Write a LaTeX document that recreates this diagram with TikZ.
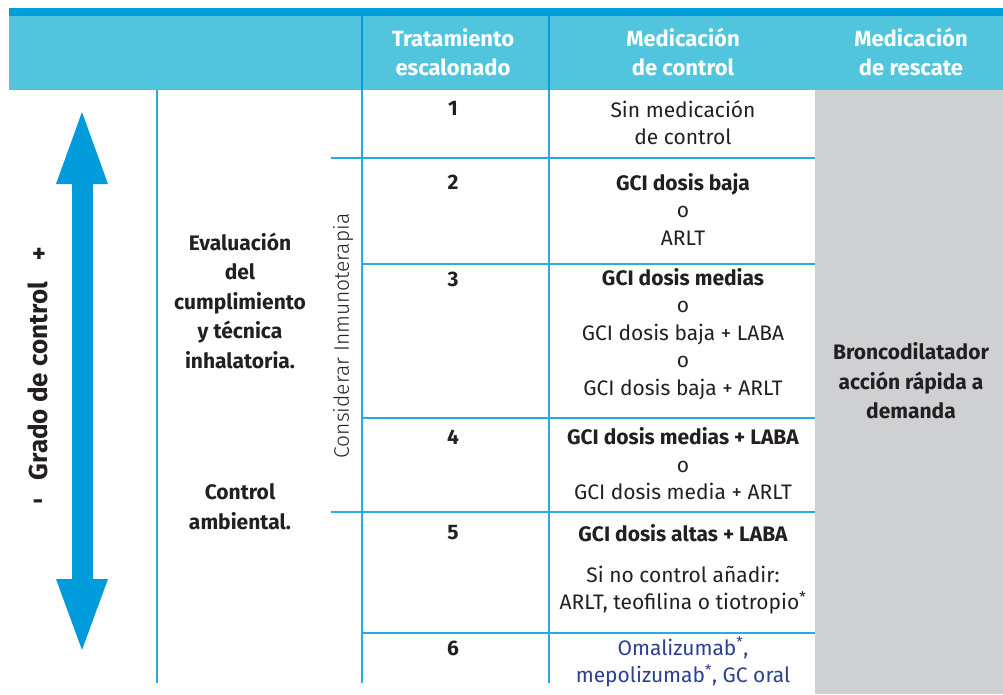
\documentclass[tikz,border=0pt]{standalone}
\usepackage{fontspec}
\setmainfont{Fira Sans}
\newfontfamily\firalight{Fira Sans Light}
\definecolor{hdr}{HTML}{52C5DE}
\definecolor{band}{HTML}{009CDB}
\definecolor{ln}{HTML}{29ABE2}
\definecolor{arr}{HTML}{009BDB}
\definecolor{gry}{HTML}{CFD0D2}
\definecolor{txt}{HTML}{231F20}
\definecolor{blu}{HTML}{2B3F93}
\begin{document}
\begin{tikzpicture}[x=1pt,y=-1pt,
  body/.style={font=\fontsize{21}{27.5}\selectfont, text=txt, align=center, inner sep=0pt},
  bbody/.style={body, font=\fontsize{21}{29.5}\selectfont\bfseries},
  big/.style={body, font=\fontsize{26}{30}\selectfont\bfseries},
  head/.style={font=\fontsize{22}{29}\selectfont\bfseries, text=white, align=center, inner sep=0pt},
  grid/.style={draw=ln, line width=1.4pt},
  hgrid/.style={draw=band, line width=1.4pt}]
\useasboundingbox (0,0) rectangle (1003,694);
% header
\fill[hdr] (9,16) rectangle (1003,90);
\fill[band] (9,8) rectangle (1003,16);
\fill[gry] (815,90) rectangle (1003,694);
% grid lines
\draw[hgrid] (362,16) -- (362,90);
\draw[hgrid] (549,16) -- (549,90);
\draw[grid] (157,90) -- (157,683);
\draw[grid] (362,90) -- (362,683);
\draw[grid] (549,90) -- (549,683);
\draw[grid] (331,158) -- (815,158);
\draw[grid] (362,264) -- (815,264);
\draw[grid] (362,418) -- (815,418);
\draw[grid] (331,512) -- (815,512);
\draw[grid] (362,633) -- (815,633);
% arrow
\fill[arr] (82,112) -- (108,184) -- (93,184) -- (93,579) -- (108,579) -- (82,650)
  -- (56,579) -- (72,579) -- (72,184) -- (56,184) -- cycle;
% header texts
\node[head] (h1) at (453,52) {Tratamiento\\escalonado};
\node[head] (h2) at (683,52) {Medicación\\de control};
\node[head] (h3) at (911,52) {Medicación\\de rescate};
% left texts
\node[big, rotate=90] (grado) at (38,381) {Grado de control};
\node[big] (plus) at (39,255) {+};
\node[big] (minus) at (38,505) {-};
\node[bbody] (eval) at (240,300.5) {Evaluación\\del\\cumplimiento\\y técnica\\inhalatoria.};
\node[bbody] (amb) at (240,506.5) {Control\\ambiental.};
\node[body, font=\fontsize{21}{27.5}\selectfont\firalight, rotate=90] (inmu) at (343,336) {Considerar Inmunoterapia};
% numbers
\node[bbody] (n1) at (453,108) {1};
\node[bbody] (n2) at (453,182) {2};
\node[bbody] (n3) at (453,279) {3};
\node[bbody] (n4) at (453,437) {4};
\node[bbody] (n5) at (453,533) {5};
\node[bbody] (n6) at (453,648) {6};
% medication
\node[body] (m1) at (683,122.5) {Sin medicación\\de control};
\node[body] (m2) at (683,209) {\textbf{GCI dosis baja}\\o\\ARLT};
\node[body] (m3) at (683,334) {\textbf{GCI dosis medias}\\o\\GCI dosis baja + LABA\\o\\GCI dosis baja + ARLT};
\node[body] (m4) at (683,464) {\textbf{GCI dosis medias + LABA}\\o\\GCI dosis media + ARLT};
\node[bbody] (m5) at (683,533) {GCI dosis altas + LABA};
\node[body] (m5b) at (683,590) {Si no control añadir:\\ARLT, teofilina o tiotropio\textsuperscript{*}};
\node[body, text=blu] (m6) at (683,662) {Omalizumab\textsuperscript{*},\\mepolizumab\textsuperscript{*}, GC oral};
% rescue
\node[bbody] (resc) at (911,381) {Broncodilatador\\acción rápida a\\demanda};
\end{tikzpicture}
\end{document}
